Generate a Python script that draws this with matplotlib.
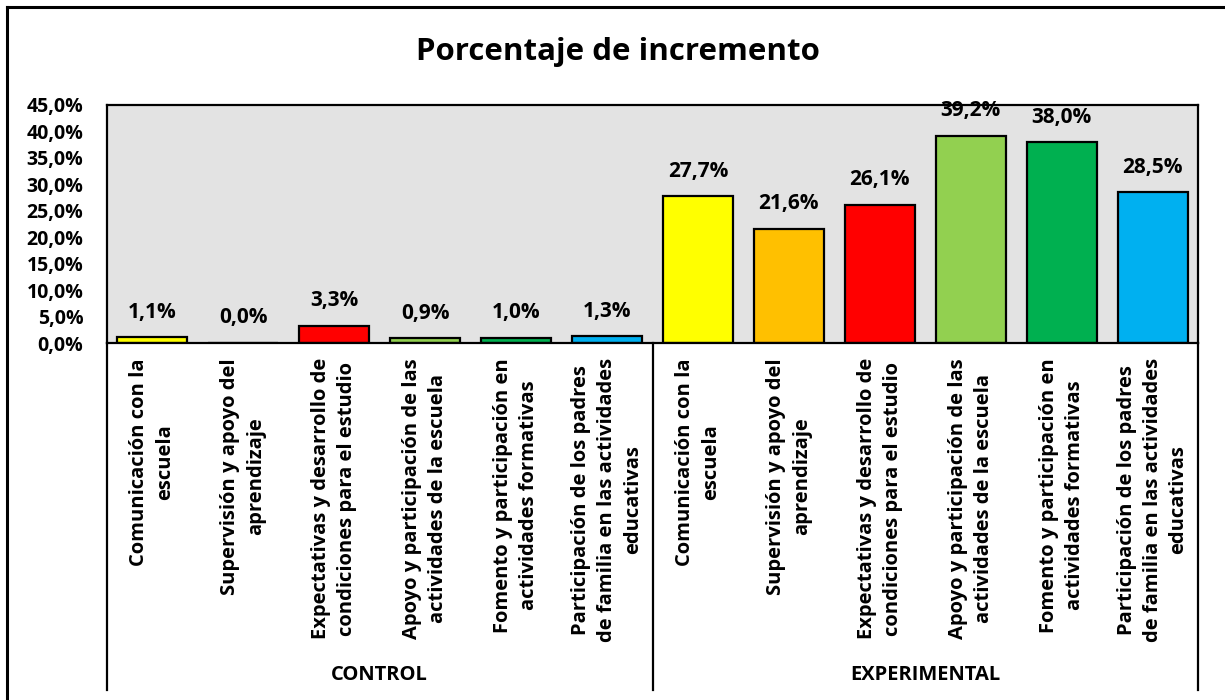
import matplotlib
matplotlib.use("Agg")
import matplotlib.pyplot as plt
from matplotlib.lines import Line2D

plt.rcParams["font.family"] = ["Open Sans", "DejaVu Sans"]
plt.rcParams["font.weight"] = "bold"

# data
groups = ["CONTROL", "EXPERIMENTAL"]
categories = [
    "Comunicación con la\nescuela",
    "Supervisión y apoyo del\naprendizaje",
    "Expectativas y desarrollo de\ncondiciones para el estudio",
    "Apoyo y participación de las\nactividades de la escuela",
    "Fomento y participación en\nactividades formativas",
    "Participación de los padres\nde familia en las actividades\neducativas",
]
control = [1.1, 0.0, 3.3, 0.9, 1.0, 1.3]
experimental = [27.7, 21.6, 26.1, 39.2, 38.0, 28.5]
colors = ["#FFFF00", "#FFC000", "#FF0000", "#92D050", "#00B050", "#00B0F0"]

values = control + experimental
labels = categories + categories
bar_colors = colors + colors
x = list(range(len(values)))

W, H = 1225, 700
fig = plt.figure(figsize=(W / 100, H / 100), dpi=100)
ax_l, ax_r, ax_t, ax_b = 107, 1198, 105, 343
ax = fig.add_axes([ax_l / W, 1 - ax_b / H, (ax_r - ax_l) / W, (ax_b - ax_t) / H])
ax.set_facecolor("#e3e3e3")

ax.bar(x, values, width=0.77, color=bar_colors, edgecolor="black", linewidth=1.6, zorder=2)
for xi, v in zip(x, values):
    ax.annotate(f"{v:.1f}%".replace(".", ","), (xi, v), xytext=(0, 18),
                textcoords="offset points", ha="center", va="center",
                fontsize=15, fontweight="bold", zorder=1)

ax.set_xlim(-0.5, len(values) - 0.5)
ax.set_ylim(0, 45)
ax.set_yticks(range(0, 50, 5))
ax.set_yticklabels([f"{t:.1f}%".replace(".", ",") for t in range(0, 50, 5)],
                   fontsize=14, fontweight="bold")
ax.tick_params(axis="y", length=0, pad=17)
ax.set_xticks([])
for s in ax.spines.values():
    s.set_linewidth(1.6)
    s.set_color("black")

# category labels and group labels below the axis
trans = ax.get_xaxis_transform()
ph = ax_b - ax_t
for xi, lab in zip(x, labels):
    ax.text(xi, -(358 - ax_b) / ph, lab, transform=trans, rotation=90,
            ha="center", va="top", multialignment="center",
            fontsize=14.5, fontweight="bold", linespacing=1.4)
n = len(categories)
for gi, g in enumerate(groups):
    ax.text(gi * n + (n - 1) / 2, -(675 - ax_b) / ph, g, transform=trans,
            ha="center", va="center", fontsize=14.5, fontweight="bold")
for sx in [-0.5, n - 0.5, 2 * n - 0.5]:
    ax.plot([sx, sx], [0, -(690 - ax_b) / ph], transform=trans, color="black",
            linewidth=1.6, clip_on=False)

fig.text(618 / W, 1 - 52 / H, "Porcentaje de incremento", ha="center", va="center",
         fontsize=22.5, fontweight="bold")

# outer chart border
fig.add_artist(Line2D([7 / W, 7 / W], [0, 1 - 7 / H], color="black", linewidth=2.2))
fig.add_artist(Line2D([7 / W, 1], [1 - 7 / H, 1 - 7 / H], color="black", linewidth=2.2))

fig.savefig("out.png", dpi=100)
